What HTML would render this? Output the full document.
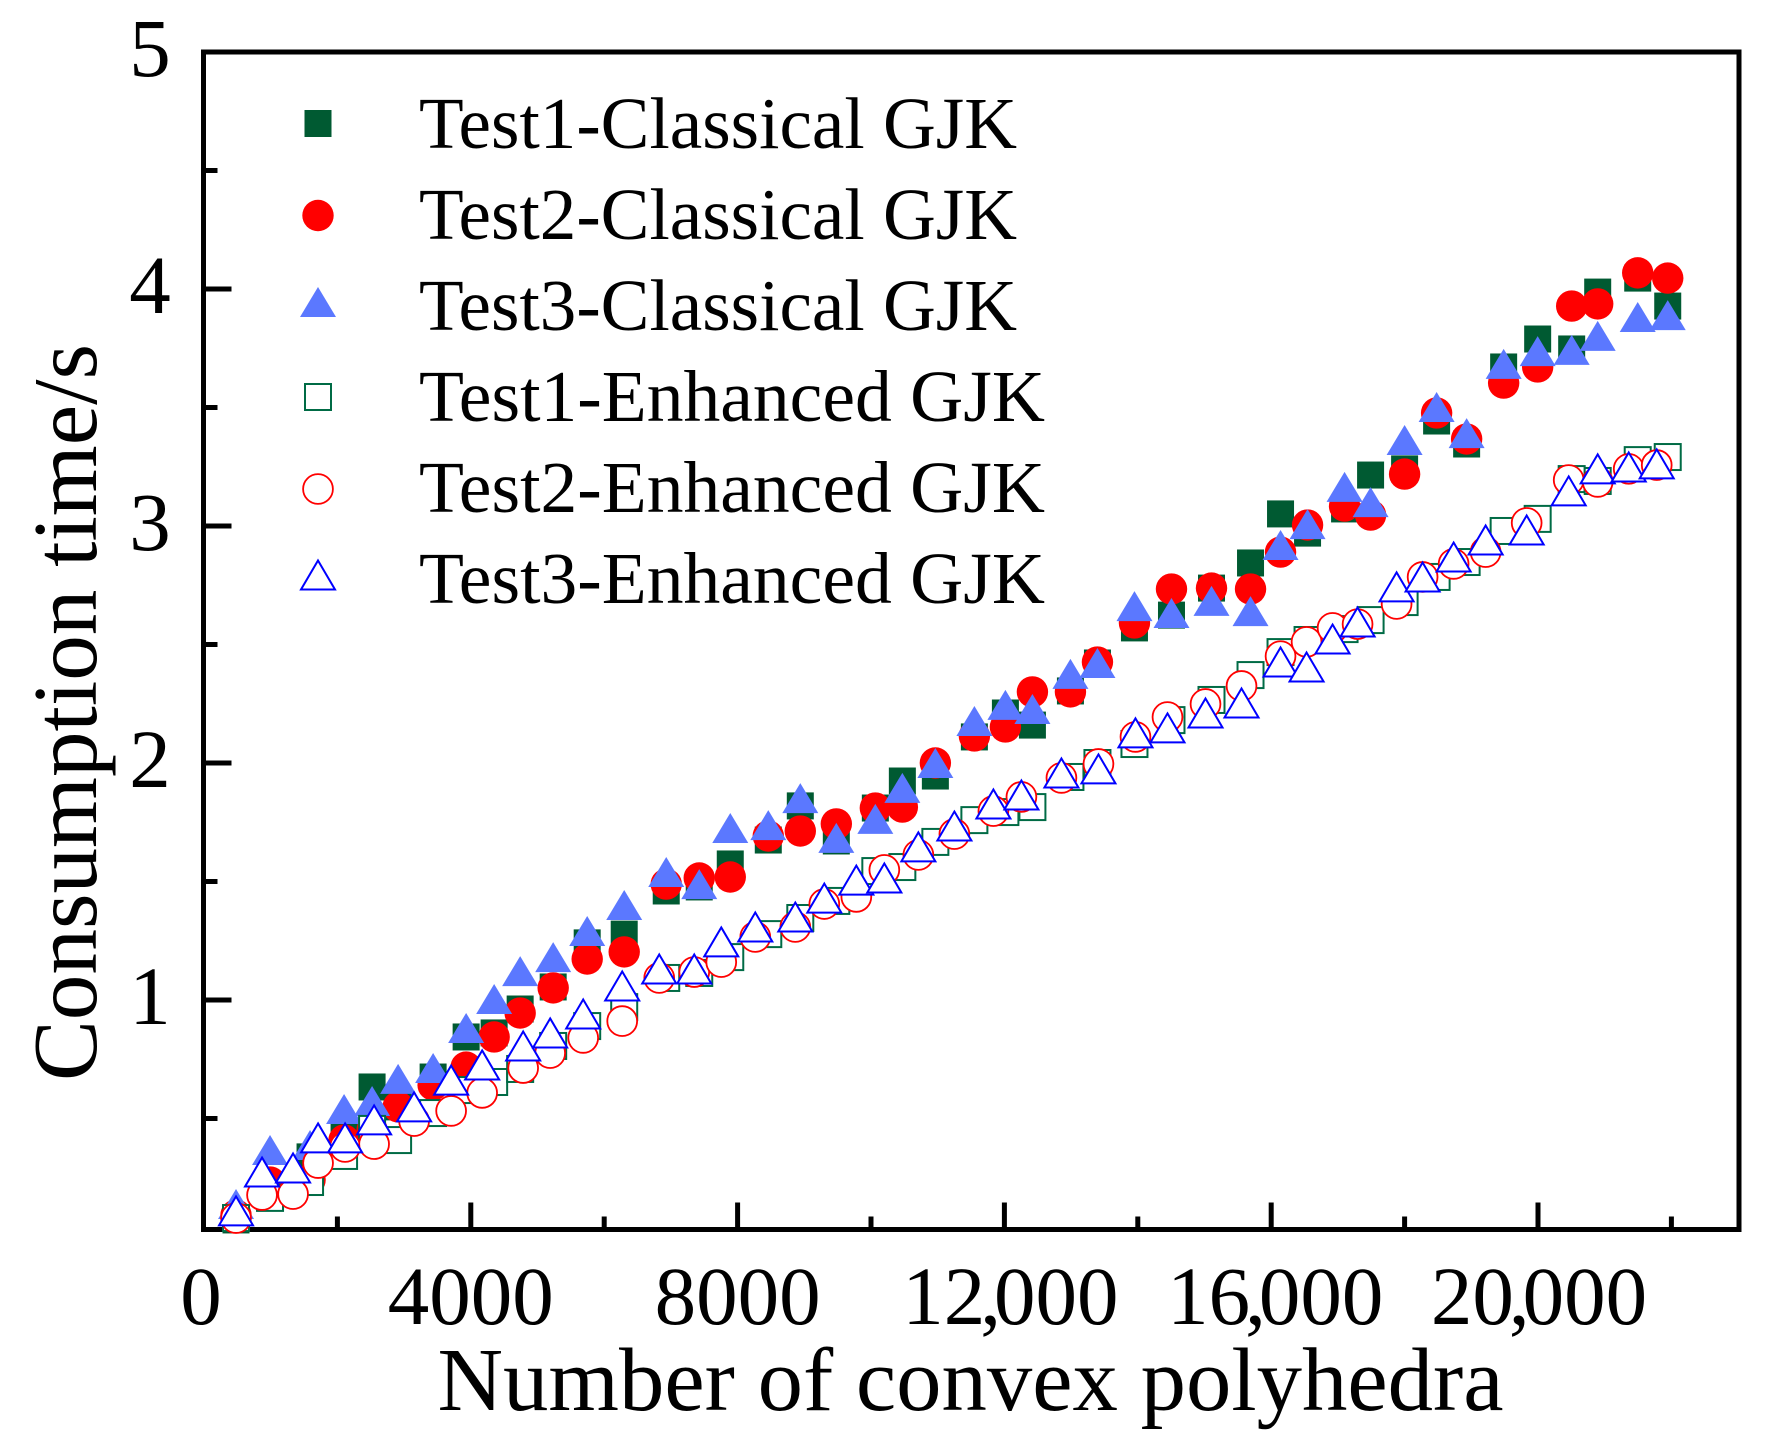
<!DOCTYPE html>
<html lang="en">
<head>
<meta charset="utf-8">
<title>Consumption time vs number of convex polyhedra</title>
<style>
html,body{margin:0;padding:0;background:#fff;}
svg{display:block;}
text{font-family:"Liberation Serif","Times New Roman",serif;fill:#000;}
</style>
</head>
<body>
<svg id="chart" xmlns="http://www.w3.org/2000/svg" width="1776" height="1449" viewBox="0 0 1776 1449">
  <rect x="0" y="0" width="1776" height="1449" fill="#fff"/>
  <g id="axes"></g>
  <g id="marks"></g>
  <g id="legend"></g>
  <text transform="translate(96,712.5) rotate(-90)" text-anchor="middle" font-size="91" textLength="737" lengthAdjust="spacingAndGlyphs">Consumption time/s</text>
  <text x="970.5" y="1410" text-anchor="middle" font-size="90" textLength="1066" lengthAdjust="spacingAndGlyphs">Number of convex polyhedra</text>
</svg>
<script>
var xClassical = [480,990,1590,2100,2520,2910,3435,3930,4350,4740,5235,5745,6300,6930,7425,7890,8460,8940,9480,10065,10470,10965,11550,12015,12420,12990,13395,13950,14505,15105,15690,16140,16545,17100,17490,18000,18480,18930,19485,19995,20505,20895,21495,21945];
var xEnhanced = [480,870,1335,1710,2115,2550,3150,3705,4170,4785,5190,5685,6270,6825,7350,7755,8265,8865,9300,9780,10200,10710,11250,11835,12255,12855,13410,13965,14445,15015,15555,16140,16530,16920,17295,17880,18270,18735,19215,19830,20460,20895,21360,21780];

var test1Classical = [.072,.198,.338,.422,.633,.549,.675,.844,.861,.962,1.055,1.241,1.278,1.460,1.477,1.574,1.675,1.819,1.671,1.810,1.924,1.945,2.110,2.211,2.160,2.304,2.422,2.570,2.624,2.738,2.844,3.051,2.970,3.072,3.215,3.241,3.443,3.346,3.671,3.789,3.747,3.987,4.046,3.928];
var test2Classical = [.093,.232,.241,.409,.451,.549,.641,.717,.844,.945,1.051,1.173,1.203,1.489,1.515,1.519,1.692,1.713,1.743,1.810,1.814,2.000,2.114,2.152,2.300,2.300,2.426,2.591,2.734,2.738,2.734,2.890,3.004,3.084,3.046,3.219,3.477,3.367,3.603,3.671,3.928,3.937,4.068,4.046];
var test3Classical = [.139,.367,.388,.540,.574,.667,.713,.882,1.004,1.122,1.181,1.291,1.401,1.540,1.489,1.726,1.738,1.852,1.684,1.764,1.895,2.000,2.177,2.245,2.228,2.376,2.422,2.662,2.633,2.684,2.641,2.920,3.008,3.165,3.101,3.363,3.502,3.392,3.684,3.738,3.743,3.802,3.882,3.890];
var test1Enhanced = [.080,.165,.232,.342,.456,.409,.523,.620,.654,.709,.806,.890,.970,1.093,1.114,1.181,1.278,1.346,1.418,1.544,1.561,1.667,1.759,1.793,1.814,1.941,2.000,2.080,2.181,2.266,2.371,2.468,2.519,2.565,2.603,2.679,2.785,2.848,2.979,3.030,3.198,3.190,3.278,3.291];
var test2Enhanced = [.080,.177,.181,.312,.380,.392,.489,.532,.608,.713,.776,.840,.911,1.093,1.118,1.160,1.266,1.308,1.405,1.435,1.549,1.612,1.700,1.797,1.857,1.937,1.996,2.110,2.194,2.249,2.325,2.451,2.511,2.570,2.586,2.671,2.785,2.840,2.890,3.013,3.194,3.186,3.241,3.257];
var test3Enhanced = [.110,.274,.291,.418,.418,.494,.549,.662,.726,.806,.861,.941,1.059,1.131,1.131,1.245,1.308,1.350,1.430,1.506,1.515,1.646,1.734,1.827,1.865,1.958,1.975,2.127,2.148,2.211,2.253,2.426,2.405,2.523,2.595,2.743,2.785,2.869,2.941,2.983,3.148,3.241,3.249,3.262];

var xMajorTicks = [4000,8000,12000,16000,20000];
var xMinorTicks = [2000,6000,10000,14000,18000,22000];
var yMajorTicks = [1,2,3,4];
var yMinorTicks = [0.5,1.5,2.5,3.5,4.5];
var xTickLabels = ["0","4000","8000","12,000","16,000","20,000"];
var xTickLabelValues = [0,4000,8000,12000,16000,20000];
var yTickLabels = ["1","2","3","4","5"];
var yTickLabelValues = [1,2,3,4,5];
var legendLabels = ["Test1-Classical GJK","Test2-Classical GJK","Test3-Classical GJK","Test1-Enhanced GJK","Test2-Enhanced GJK","Test3-Enhanced GJK"];

var SVG_NS = "http://www.w3.org/2000/svg";
var PLOT = {left:203.5, right:1739, top:52, bottom:1229.5};
function xScale(v){ return 204 + v * 0.0667; }
function yScale(v){ return 1000 - (v - 1) * 237; }

function make(tag, attrs, parent){
  var el = document.createElementNS(SVG_NS, tag);
  for (var k in attrs) el.setAttribute(k, attrs[k]);
  parent.appendChild(el);
  return el;
}

var axes = document.getElementById("axes");
var frame = make("rect", {x:PLOT.left, y:PLOT.top, width:PLOT.right-PLOT.left, height:PLOT.bottom-PLOT.top, fill:"none", stroke:"#000", "stroke-width":5}, axes);



function xTick(v, len){
  var t = make("line", {x1:xScale(v), x2:xScale(v), y1:PLOT.bottom, y2:PLOT.bottom-len, stroke:"#000", "stroke-width":5}, axes);
  
  
}
function yTick(v, len){
  var t = make("line", {x1:PLOT.left, x2:PLOT.left+len, y1:yScale(v), y2:yScale(v), stroke:"#000", "stroke-width":5}, axes);
  
  
}
xMajorTicks.forEach(function(v){ xTick(v, 27); });
xMinorTicks.forEach(function(v){ xTick(v, 13); });
yMajorTicks.forEach(function(v){ yTick(v, 28); });
yMinorTicks.forEach(function(v){ yTick(v, 14); });

xTickLabels.forEach(function(label, i){
  var hasComma = label.indexOf(",") >= 0;
  var nudge = label === "0" ? -3 : (label === "12,000" ? 6 : (label === "16,000" ? 4 : (label === "20,000" ? 1 : 0)));
  var t = make("text", {x:xScale(xTickLabelValues[i]) + nudge, y:1324, "text-anchor":"middle", "font-size":83}, axes);
  if (hasComma) t.setAttribute("dx", "0 0 -5 -7 0 0 0");
  t.textContent = label;
  
  
});
yTickLabels.forEach(function(label, i){
  var t = make("text", {x:150, y:yScale(yTickLabelValues[i])+24, "text-anchor":"middle", "font-size":83}, axes);
  t.textContent = label;
  
  
});

function drawMarker(parent, kind, cx, cy){
  var el;
  if (kind === "squareFilled") {
    el = make("rect", {x:cx-13.5, y:cy-13.5, width:27, height:27, fill:"#005a32"}, parent);
  } else if (kind === "circleFilled") {
    el = make("circle", {cx:cx, cy:cy, r:15.7, fill:"#ff0000"}, parent);
  } else if (kind === "triangleFilled") {
    el = make("polygon", {points:(cx)+","+(cy-15)+" "+(cx+18)+","+(cy+15)+" "+(cx-18)+","+(cy+15), fill:"#5b78ff"}, parent);
  } else if (kind === "squareOpen") {
    el = make("rect", {x:cx-13, y:cy-13, width:26, height:26, fill:"#fff", stroke:"#006b45", "stroke-width":2}, parent);
  } else if (kind === "circleOpen") {
    el = make("circle", {cx:cx, cy:cy, r:14.9, fill:"#fff", stroke:"#ff0000", "stroke-width":1.8}, parent);
  } else {
    el = make("polygon", {points:(cx)+","+(cy-14.5)+" "+(cx+17)+","+(cy+14.5)+" "+(cx-17)+","+(cy+14.5), fill:"#fff", stroke:"#0000ff", "stroke-width":2}, parent);
  }
  return el;
}

var marks = document.getElementById("marks");
function drawSeries(name, kind, xs, ys){
  var g = make("g", {}, marks);
  
  
  ys.forEach(function(v, i){
    var m = drawMarker(g, kind, xScale(xs[i]), yScale(v));
    
    
  });
}
drawSeries("test1-classical", "squareFilled", xClassical, test1Classical);
drawSeries("test2-classical", "circleFilled", xClassical, test2Classical);
drawSeries("test3-classical", "triangleFilled", xClassical, test3Classical);
drawSeries("test1-enhanced", "squareOpen", xClassical, test1Enhanced);
drawSeries("test2-enhanced", "circleOpen", xEnhanced, test2Enhanced);
drawSeries("test3-enhanced", "triangleOpen", xEnhanced, test3Enhanced);

var legend = document.getElementById("legend");
var legendKinds = ["squareFilled","circleFilled","triangleFilled","squareOpen","circleOpen","triangleOpen"];
var legendSymbolY = [123.5,215.5,302,397,489,575];
var legendBaselines = [148,239,330,421,512,603];
var legendWidths = [598,598,598,626,626,626];
legendLabels.forEach(function(label, i){
  var sym = drawMarker(legend, legendKinds[i], 318, legendSymbolY[i]);
  
  
  var t = make("text", {x:419, y:legendBaselines[i], "font-size":73, textLength:legendWidths[i], lengthAdjust:"spacingAndGlyphs"}, legend);
  t.textContent = label;
  
  
});
</script>
</body>
</html>
